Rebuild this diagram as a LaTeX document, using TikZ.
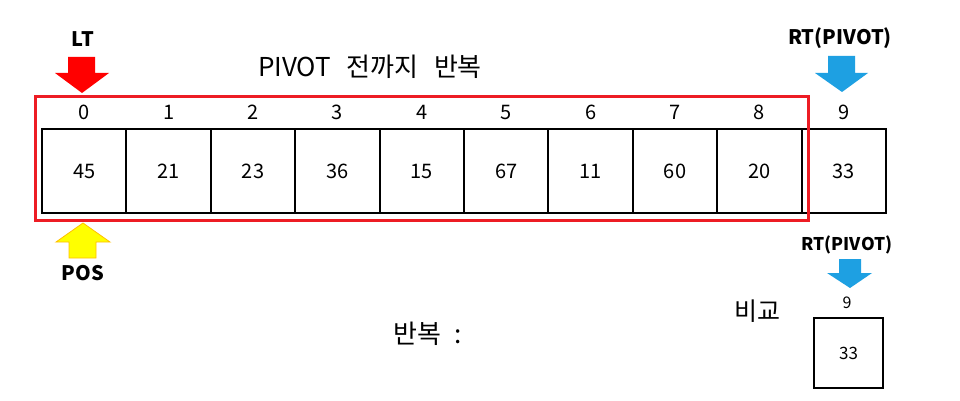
\documentclass[tikz,border=0pt]{standalone}
\usepackage{fontspec}
\setmainfont{Noto Sans CJK KR}
\begin{document}
\begin{tikzpicture}[x=1pt,y=-1pt,
  cell/.style={draw=black,line width=2pt,minimum width=84.4pt,minimum height=84pt,inner sep=0pt,font=\fontsize{20}{22}\selectfont},
  idx/.style={inner sep=0pt,font=\fontsize{20}{22}\selectfont},
  lbl/.style={inner sep=0pt,font=\fontsize{20}{22}\selectfont\bfseries},
  kor/.style={inner sep=0pt,font=\fontsize{26}{28}\selectfont}]
\useasboundingbox (0,0) rectangle (960,401);
\fill[white] (0,0) rectangle (960,401);
\definecolor{arrblue}{RGB}{30,160,226}
\definecolor{arrred}{RGB}{255,0,0}
\definecolor{boxred}{RGB}{237,28,36}
\definecolor{yelo}{RGB}{255,255,0}
\definecolor{yeloedge}{RGB}{255,192,0}
% cells
\foreach \v [count=\i from 0] in {45,21,23,36,15,67,11,60,20,33}{
  \node[cell] (c\i) at ({42+84.4*(\i+0.5)},171) {\v};
  \node[idx] (i\i) at ({42+84.4*(\i+0.5)},112) {\i};
}
% red frame
\draw[boxred,line width=3pt] (35,97) rectangle (808,220);
% title
\node[kor] (title) at (370,67) {PIVOT\hspace{0.6em}전까지\hspace{0.6em}반복};
% LT
\node[lbl] (lt) at (83,39) {LT};
\fill[arrred] (68,57) -- (95,57) -- (95,73) -- (109,73) -- (82,93) -- (55,73) -- (68,73) -- cycle;
% RT top
\node[lbl] (rt) at (840,38) {RT(PIVOT)};
\fill[arrblue] (828,56) -- (855,56) -- (855,73) -- (868,73) -- (842,92) -- (815,73) -- (828,73) -- cycle;
% POS
\draw[yeloedge,fill=yelo,line width=0.8pt] (83,223) -- (110,242) -- (96,242) -- (96,258) -- (69,258) -- (69,242) -- (56,242) -- cycle;
\node[lbl] (pos) at (83,273) {POS};
% bottom right
\node[inner sep=0pt,font=\fontsize{17.5}{19}\selectfont\bfseries] (rt2) at (847,245) {RT(PIVOT)};
\fill[arrblue] (839,259) -- (861,259) -- (861,273) -- (872,273) -- (850,288) -- (827,273) -- (839,273) -- cycle;
\node[inner sep=0pt,font=\fontsize{16}{18}\selectfont] (n9) at (847,303) {9};
\node[draw=black,line width=2pt,minimum width=69pt,minimum height=70pt,inner sep=0pt,font=\fontsize{17}{19}\selectfont] (cmpbox) at (848.5,353) {33};
\node[inner sep=0pt,font=\fontsize{25}{27}\selectfont] (cmp) at (757,311) {비교};
\node[kor] (rep) at (428,334) {반복\hspace{0.5em}:};
\end{tikzpicture}
\end{document}
